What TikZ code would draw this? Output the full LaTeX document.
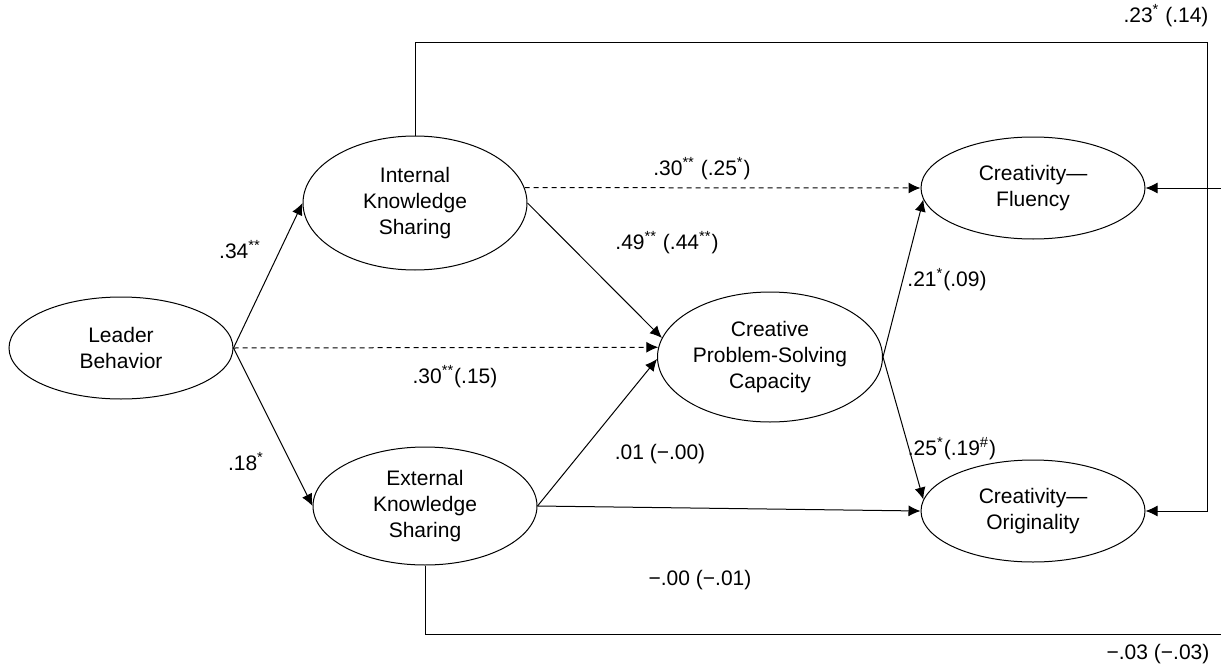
\documentclass[tikz,border=0pt]{standalone}
\usepackage{fontspec}
\setmainfont{Liberation Sans}
\usepackage{tikz}
\usetikzlibrary{shapes.geometric, arrows.meta, positioning}
\tikzset{
    latent/.style={ellipse, draw=black, line width=0.5pt, inner sep=0pt, text centered, align=center, minimum width=112pt, font=\fontsize{10.5}{13}\selectfont},
    arrow/.style={line width=0.5pt, -{Latex[length=6pt, width=5.5pt]}},
    dasharrow/.style={arrow, dash pattern=on 2.5pt off 2pt},
    link/.style={line width=0.5pt},
    coef/.style={inner sep=1pt, font=\fontsize{10.5}{13}\selectfont}
}
\newcommand{\sig}[1]{\textsuperscript{#1}}

\begin{document}
\begin{tikzpicture}[x=0.5pt, y=-0.5pt]
    \useasboundingbox (0,0) rectangle (1221,664);
    % Latent variables
    \node (lead) [latent, minimum height=51pt] at (121,348) {Leader\\Behavior};
    \node (int) [latent, minimum height=67pt] at (415,203) {Internal\\Knowledge\\Sharing};
    \node (ext) [latent, minimum height=59pt] at (425,506) {External\\Knowledge\\Sharing};
    \node (cps) [latent, minimum width=112.5pt, minimum height=65pt] at (770,357) {Creative\\Problem-Solving\\Capacity};
    \node (flu) [latent, minimum height=51pt] at (1033,188) {Creativity—\\Fluency};
    \node (orig) [latent, minimum height=51pt] at (1033,511) {Creativity—\\Originality};
    % Corners of the long paths
    \coordinate (topR) at (1207,42);
    \coordinate (botR) at (1228,634);
    % Arrows
    \draw [arrow] (lead.east) -- (int.west);
    \draw [arrow] (lead.east) -- (ext.west);
    \draw [dasharrow] (lead.east) -- (cps.175);
    \draw [dasharrow] (int.8) -- (flu.west);
    \draw [arrow] (int.east) -- (cps.170);
    \draw [arrow] (ext.east) -- (cps.181);
    \draw [arrow] (ext.east) -- (orig.west);
    \draw [arrow] (cps.east) -- (flu.186);
    \draw [arrow] (cps.east) -- (orig.174);
    \draw [arrow] (int.north) |- (topR) |- (orig.east);
    \draw [arrow] (ext.south) |- (botR) |- (flu.east);
    % Coefficients
    \node (c_lead_int) [coef] at (240,250) {.34\sig{**}};
    \node (c_lead_ext) [coef] at (246,462) {.18\sig{*}};
    \node (c_lead_cps) [coef] at (455,377) {.30\sig{**}(.15)};
    \node (c_int_flu) [coef] at (702,169) {.30\sig{**} (.25\sig{*})};
    \node (c_int_cps) [coef] at (667,243) {.49\sig{**} (.44\sig{**})};
    \node (c_ext_cps) [coef] at (660,454) {.01 (−.00)};
    \node (c_ext_orig) [coef] at (700,580) {−.00 (−.01)};
    \node (c_cps_flu) [coef] at (947,280) {.21\sig{*}(.09)};
    \node (c_cps_orig) [coef] at (952,449) {.25\sig{*}(.19\sig{\#})};
    \node (c_int_orig) [coef] at (1166,16) {.23\sig{*} (.14)};
    \node (c_ext_flu) [coef] at (1158,654) {−.03 (−.03)};
\end{tikzpicture}
\end{document}
